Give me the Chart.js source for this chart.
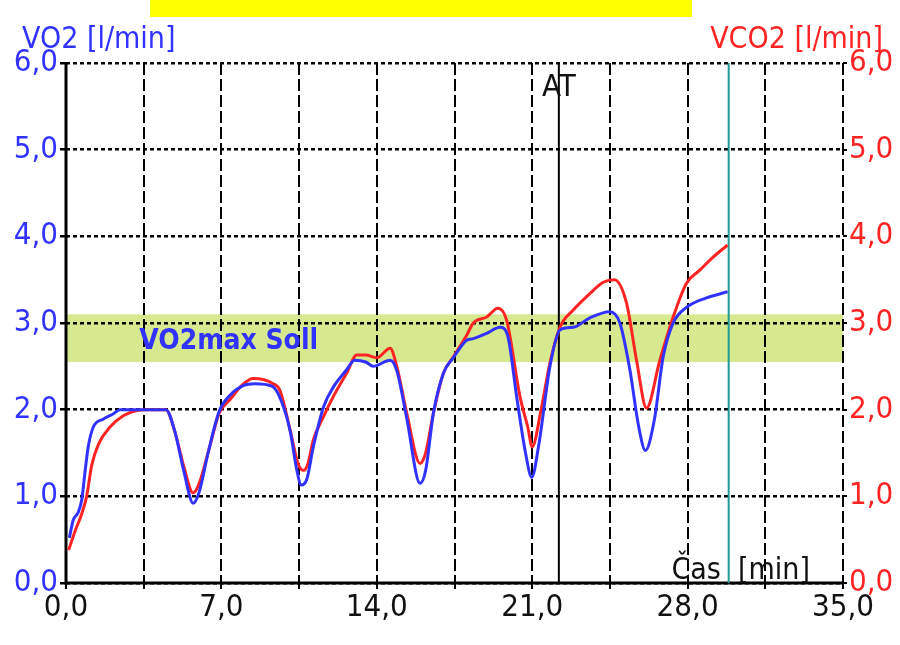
<!DOCTYPE html>
<html lang="cs">
<head>
  <meta charset="UTF-8">
  <title>VO2 / VCO2</title>
  <script src="https://cdn.jsdelivr.net/npm/chart.js"></script>
  <style>
    html, body { margin: 0; padding: 0; background: #fff; }
    .wrap { position: relative; width: 900px; height: 645px; }
    .redact { position: absolute; left: 150px; top: 0; width: 542px; height: 17px; background: #ffff00; }
  </style>
</head>
<body>
  <div class="wrap">
    <canvas id="chart" width="900" height="645"></canvas>
    <div class="redact"></div>
  </div>

  <script>
    // cas v minutach a hodnoty VO2 / VCO2 (l/min)
    const vo2Time = [0.15, 0.33, 0.54, 0.71, 0.86, 1.0, 1.23, 1.67, 2.12, 2.43, 3.0, 3.6, 4.5, 4.9, 5.3, 5.73, 6.0, 6.4, 6.9, 7.4, 8.0, 8.5, 9.3, 9.7, 10.1, 10.4, 10.6, 10.85, 11.14, 11.6, 12.04, 12.64, 13.0, 13.5, 13.84, 14.6, 14.9, 15.35, 15.95, 16.2, 16.55, 17.0, 17.45, 18.05, 18.35, 18.95, 19.55, 19.9, 20.3, 20.7, 20.98, 21.3, 21.8, 22.25, 22.85, 23.6, 24.5, 24.95, 25.4, 25.8, 26.1, 26.5, 26.9, 27.35, 27.95, 28.85, 29.8];
    const vo2Values = [0.52, 0.73, 0.81, 0.96, 1.29, 1.57, 1.8, 1.89, 1.95, 2.0, 2.0, 2.0, 2.0, 1.75, 1.3, 0.92, 1.05, 1.5, 1.98, 2.17, 2.28, 2.3, 2.27, 2.1, 1.75, 1.3, 1.13, 1.2, 1.57, 2.03, 2.26, 2.46, 2.57, 2.55, 2.5, 2.57, 2.45, 1.9, 1.15, 1.3, 1.96, 2.42, 2.6, 2.8, 2.82, 2.88, 2.95, 2.85, 2.15, 1.5, 1.22, 1.6, 2.5, 2.92, 2.95, 3.06, 3.13, 3.0, 2.46, 1.8, 1.53, 1.88, 2.61, 3.0, 3.18, 3.29, 3.36];

    const vco2Time = [0.12, 0.41, 0.71, 0.93, 1.16, 1.46, 1.98, 2.58, 3.18, 3.6, 4.5, 4.9, 5.3, 5.73, 6.0, 6.5, 6.9, 7.4, 8.0, 8.43, 9.33, 9.64, 10.1, 10.45, 10.7, 10.9, 11.14, 11.6, 12.04, 12.64, 13.1, 13.5, 14.0, 14.6, 14.9, 15.35, 15.95, 16.2, 16.55, 17.0, 17.45, 18.05, 18.35, 18.95, 19.46, 19.85, 20.45, 20.8, 21.0, 21.4, 21.8, 22.25, 22.85, 23.6, 24.2, 24.7, 25.25, 25.7, 26.15, 26.75, 27.35, 27.95, 28.55, 29.15, 29.8];
    const vco2Values = [0.38, 0.6, 0.8, 1.0, 1.36, 1.6, 1.8, 1.93, 1.99, 2.0, 2.0, 1.75, 1.35, 1.04, 1.15, 1.6, 1.96, 2.12, 2.3, 2.36, 2.3, 2.22, 1.76, 1.38, 1.3, 1.38, 1.65, 1.92, 2.15, 2.42, 2.63, 2.63, 2.6, 2.71, 2.5, 1.96, 1.38, 1.5, 1.96, 2.42, 2.61, 2.86, 3.0, 3.07, 3.17, 3.03, 2.15, 1.8, 1.57, 2.0, 2.54, 2.95, 3.15, 3.34, 3.47, 3.5, 3.23, 2.57, 2.02, 2.57, 3.07, 3.46, 3.61, 3.76, 3.9];

    const sollBand = [2.55, 3.1];   // VO2max Soll
    const atTime = 22.2;            // AT
    const endTime = 29.85;          // konec mereni

    const BLUE = '#3232ff';
    const RED = '#ff2424';
    const FONT = "'Liberation Sans Narrow', 'DejaVu Sans Condensed', 'Liberation Sans', sans-serif";

    const fmt = v => Number(v).toFixed(1).replace('.', ',');

    const overlay = {
      id: 'overlay',
      beforeDraw(chart) {
        const { ctx, chartArea: a, scales: { y } } = chart;
        ctx.save();
        // pasmo VO2max Soll
        ctx.fillStyle = '#d6e98e';
        const top = y.getPixelForValue(sollBand[1]);
        const bot = y.getPixelForValue(sollBand[0]);
        ctx.fillRect(a.left, top, a.right - a.left, bot - top);
        ctx.restore();
      },
      beforeDatasetsDraw(chart) {
        const { ctx, chartArea: a, scales: { x, y } } = chart;
        ctx.save();
        ctx.fillStyle = BLUE;
        ctx.font = 'bold 28px ' + FONT;
        ctx.textBaseline = 'middle';
        ctx.fillText('VO2max Soll', x.getPixelForValue(3.3), y.getPixelForValue(2.78));

        // osy
        ctx.strokeStyle = '#000';
        ctx.lineWidth = 3;
        ctx.beginPath();
        ctx.moveTo(a.left, a.top);
        ctx.lineTo(a.left, a.bottom);
        ctx.lineTo(a.right, a.bottom);
        ctx.stroke();

        // AT
        ctx.lineWidth = 2;
        const ax = x.getPixelForValue(atTime);
        ctx.beginPath();
        ctx.moveTo(ax, a.top);
        ctx.lineTo(ax, a.bottom);
        ctx.stroke();
        ctx.fillStyle = '#111';
        ctx.font = '31px ' + FONT;
        ctx.textAlign = 'center';
        ctx.fillText('AT', ax, a.top + 25);

        // konec mereni
        ctx.strokeStyle = '#1f9a94';
        const ex = x.getPixelForValue(endTime);
        ctx.beginPath();
        ctx.moveTo(ex, a.top);
        ctx.lineTo(ex, a.bottom);
        ctx.stroke();
        ctx.restore();
      },
      afterDraw(chart) {
        const { ctx, chartArea: a } = chart;
        ctx.save();
        ctx.font = '30px ' + FONT;
        ctx.textBaseline = 'alphabetic';
        ctx.fillStyle = BLUE;
        ctx.textAlign = 'left';
        ctx.fillText('VO2 [l/min]', 22, 48);
        ctx.fillStyle = RED;
        ctx.textAlign = 'right';
        ctx.fillText('VCO2 [l/min]', 883, 48);
        ctx.fillStyle = '#111';
        ctx.fillText('Čas  [min]', 810, a.bottom - 4);
        ctx.restore();
      }
    };

    new Chart(document.getElementById('chart'), {
      type: 'line',
      data: {
        datasets: [
          {
            label: 'VO2',
            data: vo2Time.map((t, i) => ({ x: t, y: vo2Values[i] })),
            borderColor: BLUE,
            borderWidth: 3,
            pointRadius: 0,
            cubicInterpolationMode: 'monotone',
            fill: false,
            yAxisID: 'y'
          },
          {
            label: 'VCO2',
            data: vco2Time.map((t, i) => ({ x: t, y: vco2Values[i] })),
            borderColor: RED,
            borderWidth: 3,
            pointRadius: 0,
            cubicInterpolationMode: 'monotone',
            fill: false,
            yAxisID: 'y2'
          }
        ]
      },
      options: {
        responsive: false,
        animation: false,
        layout: { padding: { top: 63, left: 0, right: 0, bottom: 0 } },
        plugins: {
          legend: { display: false },
          tooltip: { enabled: false }
        },
        scales: {
          x: {
            type: 'linear',
            min: 0,
            max: 35,
            afterFit: s => { s.height = 62; },
            ticks: {
              stepSize: 3.5,
              color: '#111',
              font: { family: FONT, size: 31 },
              padding: 0,
              maxRotation: 0,
              autoSkip: false,
              callback: v => (Math.abs(v % 7) < 1e-6 ? fmt(v) : '')
            },
            grid: { color: '#000', lineWidth: 2, tickLength: 6 },
            border: { display: false, dash: [12, 4] }
          },
          y: {
            position: 'left',
            min: 0,
            max: 6,
            afterFit: s => { s.width = 66; },
            ticks: {
              stepSize: 1,
              color: BLUE,
              font: { family: FONT, size: 31 },
              padding: 2,
              callback: v => fmt(v)
            },
            grid: { color: '#000', lineWidth: 2.5, tickLength: 6 },
            border: { display: false, dash: [4, 3] }
          },
          y2: {
            position: 'right',
            min: 0,
            max: 6,
            afterFit: s => { s.width = 57; },
            ticks: {
              stepSize: 1,
              color: RED,
              font: { family: FONT, size: 31 },
              padding: 2,
              callback: v => fmt(v)
            },
            grid: { drawOnChartArea: false, color: '#000', lineWidth: 2, tickLength: 4 },
            border: { display: false }
          }
        }
      },
      plugins: [overlay]
    });
  </script>
</body>
</html>
